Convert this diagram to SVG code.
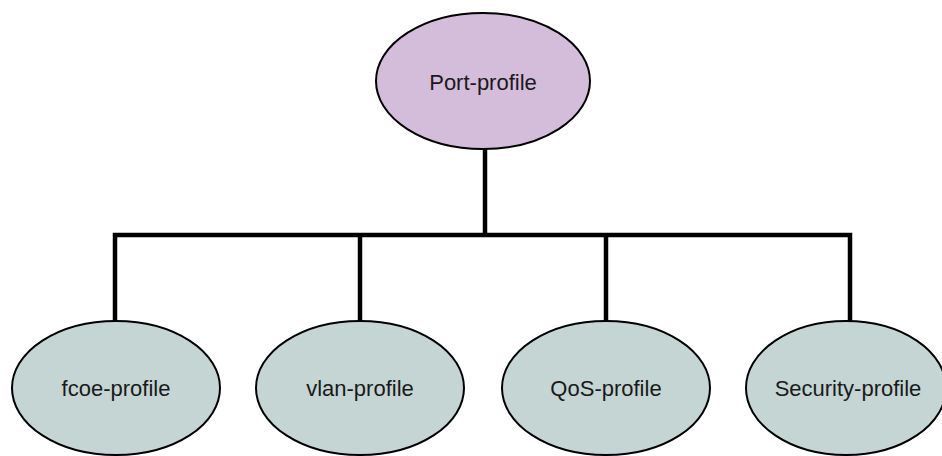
<svg xmlns="http://www.w3.org/2000/svg" width="942" height="456" viewBox="0 0 942 456">
<style>
.node ellipse{stroke:#000;stroke-width:2}
.root ellipse{fill:#d4bcdb}
.child ellipse{fill:#c4d5d4}
.node text{font-family:"Liberation Sans",Arial,sans-serif;font-size:22px;fill:#1a1a1a;text-anchor:middle}
.conn{fill:none;stroke:#000;stroke-width:4.5;stroke-linejoin:miter}
</style>
<rect width="942" height="456" fill="#fff"/>
<g id="connectors">
<path class="conn" d="M485 148 V235"/>
<path class="conn" d="M115 321 V235 H850 V321"/>
<path class="conn" d="M360 235 V321"/>
<path class="conn" d="M606 235 V321"/>
</g>
<g id="port-profile" class="node root">
<ellipse cx="483" cy="81" rx="107" ry="68"/>
<text x="483" y="90">Port-profile</text>
</g>
<g id="fcoe-profile" class="node child">
<ellipse cx="116" cy="388" rx="104" ry="67"/>
<text x="116" y="396">fcoe-profile</text>
</g>
<g id="vlan-profile" class="node child">
<ellipse cx="360" cy="388" rx="104" ry="67"/>
<text x="360" y="396">vlan-profile</text>
</g>
<g id="qos-profile" class="node child">
<ellipse cx="606" cy="388" rx="104" ry="67"/>
<text x="606" y="396">QoS-profile</text>
</g>
<g id="security-profile" class="node child">
<ellipse cx="846" cy="388" rx="100" ry="67"/>
<text x="848" y="396">Security-profile</text>
</g>
</svg>
